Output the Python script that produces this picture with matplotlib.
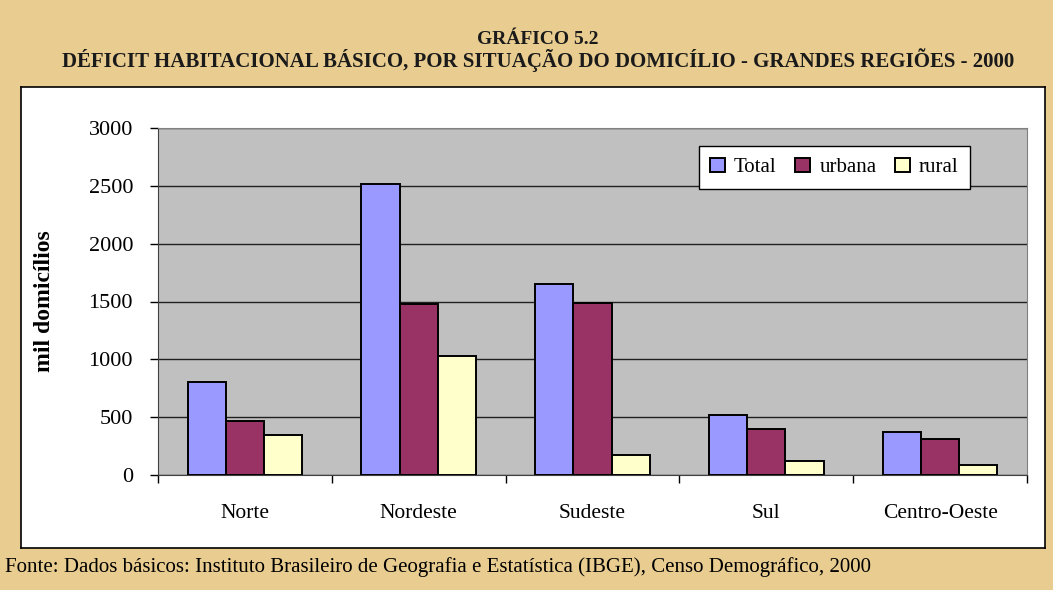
import numpy as np
import matplotlib
matplotlib.use("Agg")
import matplotlib.pyplot as plt

# data (mil domicílios)
regioes = ["Norte", "Nordeste", "Sudeste", "Sul", "Centro-Oeste"]
total = [808, 2515, 1648, 518, 376]
urbana = [465, 1482, 1486, 400, 309]
rural = [342, 1030, 172, 122, 84]
series_names = ["Total", "urbana", "rural"]
series_colors = ["#9999FF", "#993366", "#FFFFCC"]
y_ticks = [0, 500, 1000, 1500, 2000, 2500, 3000]

plt.rcParams["font.family"] = ["Liberation Serif", "DejaVu Serif"]

W, H = 1053, 590
fig = plt.figure(figsize=(W / 100, H / 100), dpi=100)
fig.patch.set_facecolor("#E8CC90")

# white chart panel (behind the axes)
panel = fig.add_axes([21 / W, 1 - 548 / H, 1024 / W, 461 / H], zorder=0)
panel.set_xticks([])
panel.set_yticks([])
panel.set_facecolor("white")
for s in panel.spines.values():
    s.set_linewidth(1.2)
    s.set_color("black")

ax = fig.add_axes([158 / W, 1 - 475 / H, 869 / W, 347 / H], zorder=1)
ax.set_facecolor("#C0C0C0")

x = np.arange(len(regioes))
bw = 0.22
for i, (vals, name, col) in enumerate(zip([total, urbana, rural], series_names, series_colors)):
    ax.bar(x + (i - 1) * bw, vals, bw, color=col, edgecolor="black",
           linewidth=1.4, label=name, zorder=3)

ax.set_xlim(-0.5, len(regioes) - 0.5)
ax.set_ylim(0, 3000)
ax.set_yticks(y_ticks)
ax.set_yticklabels([str(v) for v in y_ticks], fontsize=16)
ax.yaxis.grid(True, color="#202020", linewidth=1.0, zorder=1)
ax.set_axisbelow(True)

ax.set_xticks(x)
ax.set_xticklabels(regioes, fontsize=15.5)
ax.set_xticks(np.arange(-0.5, len(regioes)), minor=True)
ax.tick_params(axis="x", which="major", length=0, pad=21)
ax.tick_params(axis="x", which="minor", length=6, width=1, direction="out")
ax.tick_params(axis="y", length=6, width=1, direction="out", pad=12)

for side in ["top", "right"]:
    ax.spines[side].set_color("#808080")
for side in ["left", "bottom"]:
    ax.spines[side].set_color("#404040")

leg = ax.legend(loc="upper left", bbox_to_anchor=(0.610, 0.978), ncol=3,
                fontsize=15, frameon=True, fancybox=False, edgecolor="black",
                handlelength=0.7, handleheight=0.7, handletextpad=0.45,
                columnspacing=0.9, borderpad=0.55)
leg.get_frame().set_linewidth(1.0)
leg.get_frame().set_alpha(1)

fig.text(45 / W, 1 - 301 / H, "mil domicílios", rotation=90, fontsize=17,
         fontweight="bold", ha="center", va="center")

fig.text(538 / W, 1 - 39 / H, "GRÁFICO 5.2", fontsize=14, fontweight="bold",
         ha="center", va="center", color="#1a1a1a")
fig.text(538 / W, 1 - 60 / H,
         "DÉFICIT HABITACIONAL BÁSICO, POR SITUAÇÃO DO DOMICÍLIO - GRANDES REGIÕES - 2000",
         fontsize=15, fontweight="bold", ha="center", va="center", color="#1a1a1a")

fig.text(5 / W, 1 - 567 / H,
         "Fonte: Dados básicos: Instituto Brasileiro de Geografia e Estatística (IBGE), Censo Demográfico, 2000",
         fontsize=15, ha="left", va="center")

fig.savefig("out.png", dpi=100, facecolor=fig.get_facecolor())
